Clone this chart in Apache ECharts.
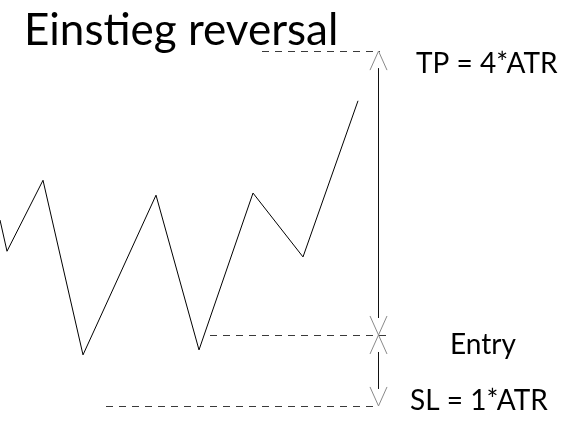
<!DOCTYPE html>
<html>
<head>
<meta charset="utf-8">
<script src="https://cdn.jsdelivr.net/npm/echarts@6/dist/echarts.min.js"></script>
<style>
html,body{margin:0;padding:0;background:#fff;}
#chart{width:564px;height:423px;}
</style>
</head>
<body>
<div id="chart"></div>
<script>
// Price path (x in time units, y in ATR units relative to entry)
const priceX = [0, 7, 43, 83, 156, 199, 253, 303, 358];
const priceY = [1.62, 1.18, 2.18, -0.28, 1.97, -0.21, 2.00, 1.10, 3.30];

// Levels (ATR units relative to entry)
const levelNames = ['TP', 'Entry', 'SL'];
const levelValues = [4, 0, -1];
const levelStartX = [262, 210, 106];
const levelEndX = [380, 389, 378];

// Double-headed arrows between levels: [x, fromLevel, toLevel]
const arrowX = [378, 378];
const arrowFrom = [0, -1];
const arrowTo = [4, 0];

// Text labels
const titleText = 'Einstieg reversal';
const labelTexts = ['TP = 4*ATR', 'Entry', 'SL = 1*ATR'];

const chart = echarts.init(document.getElementById('chart'));

const FONT = 'Lato, Carlito, sans-serif';

const option = {
  backgroundColor: '#ffffff',
  animation: false,
  title: {
    text: titleText,
    left: 24,
    top: 9,
    padding: 0,
    textStyle: { fontFamily: FONT, fontSize: 44, fontWeight: 'normal', color: '#000' }
  },
  grid: { left: 0, right: 0, top: 0, bottom: 0 },
  xAxis: { type: 'value', min: 0, max: 564, show: false },
  yAxis: { type: 'value', min: -1.24, max: 4.72, show: false },
  series: [
    {
      type: 'line',
      data: priceX.map((x, i) => [x, priceY[i]]),
      showSymbol: false,
      lineStyle: { color: '#000', width: 1 },
      z: 3
    },
    {
      type: 'custom',
      data: levelValues.map((v, i) => [levelStartX[i], levelEndX[i], v]),
      renderItem: function (params, api) {
        const a = api.coord([api.value(0), api.value(2)]);
        const b = api.coord([api.value(1), api.value(2)]);
        const y = Math.round(a[1]) + 0.5;
        return {
          type: 'line',
          shape: { x1: a[0], y1: y, x2: b[0], y2: y },
          style: { stroke: '#3a3a3a', lineWidth: 1, lineDash: [7, 6] }
        };
      },
      z: 2
    },
    {
      type: 'custom',
      data: arrowX.map((x, i) => [x, arrowFrom[i], arrowTo[i]]),
      renderItem: function (params, api) {
        const lo = api.coord([api.value(0), api.value(1)]);
        const hi = api.coord([api.value(0), api.value(2)]);
        const x = Math.round(lo[0]) + 0.5;
        const yTop = hi[1];
        const yBot = lo[1];
        const hl = 19, hw = 8.5;
        const headStyle = { stroke: '#8a8a8a', lineWidth: 1, fill: null };
        return {
          type: 'group',
          children: [
            { type: 'line', shape: { x1: x, y1: yTop + hl - 2, x2: x, y2: yBot - hl + 2 },
              style: { stroke: '#111', lineWidth: 1 } },
            { type: 'polyline', shape: { points: [[x - hw, yTop + hl], [x, yTop], [x + hw, yTop + hl]] },
              style: headStyle },
            { type: 'polyline', shape: { points: [[x - hw, yBot - hl], [x, yBot], [x + hw, yBot - hl]] },
              style: headStyle }
          ]
        };
      },
      z: 4
    }
  ],
  graphic: [
    { type: 'text', left: 416, top: 50, style: { text: labelTexts[0], font: '28px ' + FONT, fill: '#000' } },
    { type: 'text', left: 450, top: 331, style: { text: labelTexts[1], font: '28px ' + FONT, fill: '#000' } },
    { type: 'text', left: 410, top: 387, style: { text: labelTexts[2], font: '28px ' + FONT, fill: '#000' } }
  ]
};

chart.setOption(option);
</script>
</body>
</html>
